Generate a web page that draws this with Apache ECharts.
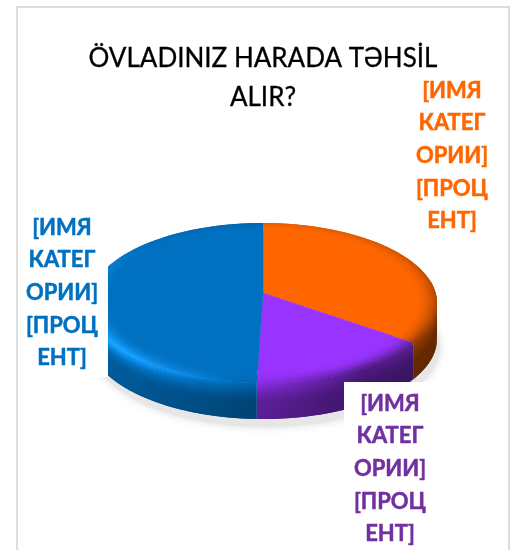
<!DOCTYPE html>
<html><head><meta charset="utf-8">
<style>html,body{margin:0;padding:0;background:#fff}#c{width:512px;height:550px}</style>
<script src="https://cdn.jsdelivr.net/npm/echarts@6/dist/echarts.min.js"></script>
</head><body><div id="c"></div>
<script>
const titleText = "ÖVLADINIZ HARADA TƏHSİL\nALIR?";
const categories = ["Orange", "Purple", "Blue"];
const values = [35, 15.5, 49.5];
const sliceColors = ["#ff6600", "#9933ff", "#0070c0"];
const labelColors = ["#ff6600", "#7030a0", "#0070c0"];
const labelText = "[ИМЯ\nКАТЕГ\nОРИИ]\n[ПРОЦ\nЕНТ]";

// layout of the tilted disc
const cx = 263, apexY = 293, rx = 172.6, ry = 78.75, persp = 0.125, depth = 36, bevelStart = 0.875;
const total = values.reduce((a, b) => a + b, 0);
const D2R = Math.PI / 180;
function project(theta, r, dy) {
  const u = Math.sin(theta * D2R) * r, v = Math.cos(theta * D2R) * r, w = 1 + persp * v;
  return [cx + rx * u / w, apexY - ry * v / w + (dy || 0)];
}
function hex(c) { return [1, 3, 5].map(i => parseInt(c.substr(i, 2), 16)); }
function shade(c, f) {
  const b = hex(c), add = f > 1 ? (f - 1) * 90 : 0;
  return "rgb(" + b.map(x => Math.min(255, Math.round(x * f + add))).join(",") + ")";
}
function lightAt(t) { return Math.max(0, Math.min(1, (Math.cos((t - 250) * D2R) + 0.2) / 1.2)); }
function rimFactor(t) {
  const B = 0.2 + 0.8 * (1 - Math.cos(t * D2R)) / 2;
  return 1 + (0.5 + 0.85 * lightAt(t) - 1) * B;
}
function wallFactor(t, d) {
  const base = 0.42 + 0.45 * lightAt(t);
  const rim = rimFactor(t);
  const m = Math.min(1, d / 0.45);
  return (rim + (base - rim) * m) * (1 - 0.08 * d);
}
function sliceRange(i) {
  let a = 0;
  for (let k = 0; k < i; k++) a += values[k] / total * 360;
  return [a, a + values[i] / total * 360];
}
function steps(a0, a1, st) {
  const n = Math.max(2, Math.ceil((a1 - a0) / st)), out = [];
  for (let i = 0; i <= n; i++) out.push(a0 + (a1 - a0) * i / n);
  return out;
}
// one column per angle step; each column runs past the next step and is painted over by it,
// so no seams appear between neighbours
function wallItem(params) {
  const i = params.dataIndex, [a0, a1] = sliceRange(i), col = sliceColors[i], kids = [];
  if (i === 0) {
    const pts = steps(0, 360, 3).map(t => { const p = project(t, 1, depth + 8); return [p[0] + 3, p[1]]; });
    kids.push({ type: "polygon", shape: { points: pts }, style: { fill: "#e6e6e6", shadowBlur: 8, shadowColor: "#dcdcdc" } });
  }
  const s = Math.max(a0, 80), e = Math.min(a1, 280);
  if (s < e) {
    const ang = steps(s, e, 1.5);
    for (let j = 0; j < ang.length - 1; j++) {
      const t0 = ang[j], t1 = Math.min(e, ang[j + 1] + 1.5), tm = (ang[j] + ang[j + 1]) / 2;
      const y0 = project(tm, 1)[1], stops = [];
      for (let k = 0; k <= 8; k++) stops.push({ offset: k / 8, color: shade(col, wallFactor(tm, k / 8)) });
      kids.push({ type: "polygon",
        shape: { points: [project(t0, 1), project(t1, 1), project(t1, 1, depth), project(t0, 1, depth)] },
        style: { fill: { type: "linear", x: 0, y: y0, x2: 0, y2: y0 + depth, global: true, colorStops: stops } } });
    }
  }
  return { type: "group", children: kids };
}
function topItem(params) {
  const i = params.dataIndex, [a0, a1] = sliceRange(i), col = sliceColors[i], kids = [];
  const ang = steps(a0, a1, 1.5);
  const inner = bevelStart - 0.03;
  for (let j = 0; j < ang.length - 1; j++) {
    const t0 = ang[j], t1 = Math.min(a1, ang[j + 1] + 1.5), tm = (ang[j] + ang[j + 1]) / 2;
    const pA = project(tm, bevelStart), pB = project(tm, 1), stops = [];
    for (let k = 0; k <= 6; k++) {
      const p = k / 6;
      stops.push({ offset: p, color: shade(col, 1 + (rimFactor(tm) - 1) * p * p) });
    }
    kids.push({ type: "polygon",
      shape: { points: [project(t0, inner), project(t1, inner), project(t1, 1), project(t0, 1)] },
      style: { fill: { type: "linear", x: pA[0], y: pA[1], x2: pB[0], y2: pB[1], global: true, colorStops: stops } } });
  }
  // painted last so the flat face closes the inner edge of the bevel
  kids.push({ type: "polygon", shape: { points: [[cx, apexY]].concat(ang.map(t => project(t, bevelStart))) },
    style: { fill: col, stroke: col, lineWidth: 0.5 } });
  return { type: "group", children: kids };
}
const chart = echarts.init(document.getElementById("c"), null, { renderer: "canvas" });
const labelFont = { fontFamily: "Lato", fontWeight: 700, fontSize: 22, lineHeight: 32.6, align: "center", verticalAlign: "middle", lineWidth: 0.5 };
function labelEl(i, x, y) {
  return { type: "text", x: x, y: y, z: 20, style: Object.assign({ text: labelText, fill: labelColors[i], stroke: labelColors[i] }, labelFont) };
}
chart.setOption({
  animation: false,
  backgroundColor: "#fff",
  title: {
    text: titleText, left: 258, top: 34, textAlign: "center",
    textStyle: { fontFamily: "Lato", fontWeight: 400, fontSize: 26, lineHeight: 39, color: "#000", textBorderColor: "#000", textBorderWidth: 0.3 }
  },
  series: [
    { type: "custom", coordinateSystem: "none", z: 1, silent: true, renderItem: wallItem, data: values },
    { type: "custom", coordinateSystem: "none", z: 2, silent: true, renderItem: topItem, data: values }
  ],
  graphic: [
    { type: "rect", z: 10, shape: { x: 18, y: 200, width: 90, height: 177 }, style: { fill: "#fff" } },
    { type: "rect", z: 10, shape: { x: 344, y: 382, width: 164, height: 168 }, style: { fill: "#fff" } },
    { type: "rect", z: 11, shape: { x: 17, y: 7, width: 492, height: 600 }, style: { fill: "none", stroke: "#dedede", lineWidth: 2 } },
    labelEl(0, 452, 156),
    labelEl(1, 390, 469),
    labelEl(2, 62, 293)
  ]
});
</script></body></html>
